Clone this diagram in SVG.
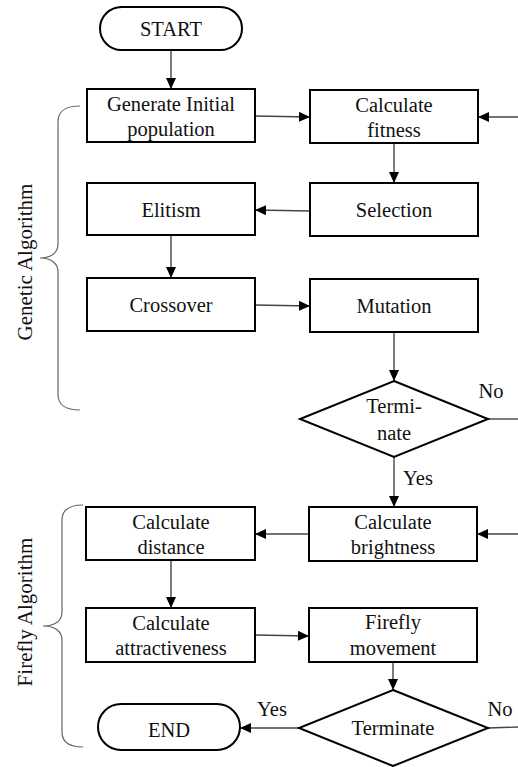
<svg xmlns="http://www.w3.org/2000/svg" width="518" height="767" viewBox="0 0 518 767">
  <style>
    .box { fill: #fff; stroke: #000; stroke-width: 2; }
    .lbl { font-size: 20.5px; fill: #111; text-anchor: middle; }
    .side { font-size: 21px; fill: #111; text-anchor: middle; }
    .edge { stroke: #444; stroke-width: 1.4; fill: none; }
    .brace { stroke: #666; stroke-width: 1.2; fill: none; }
  </style>
  <defs>
    <marker id="arrow" markerUnits="userSpaceOnUse" markerWidth="12" markerHeight="10" refX="11" refY="5" orient="auto">
      <path d="M0,0 L11,5 L0,10 Z" fill="#000"/>
    </marker>
  </defs>

  <rect width="518" height="767" fill="#fff"/>

  <g font-family="Liberation Serif, DejaVu Serif, serif">
  <!-- group braces and their titles -->
  <g id="genetic-brace">
    <path class="brace" d="M80,106 C66,106 58,110 58,122 L58,244 C58,252 52,258 40,258 C52,258 58,264 58,272 L58,394 C58,406 66,410 80,410"/>
    <text class="side" transform="translate(32,262) rotate(-90)">Genetic Algorithm</text>
  </g>
  <g id="firefly-brace">
    <path class="brace" d="M83,505 C70,505 62,509 62,520 L62,612 C62,620 56,626 43,626 C56,626 62,632 62,640 L62,732 C62,743 70,747 83,747"/>
    <text class="side" transform="translate(32,612) rotate(-90)">Firefly Algorithm</text>
  </g>

  <!-- connectors -->
  <g id="connectors">
    <path class="edge" d="M171,50 L171,89" marker-end="url(#arrow)"/>
    <path class="edge" d="M255,116 L310,117" marker-end="url(#arrow)"/>
    <path class="edge" d="M518,117 L478,117" marker-end="url(#arrow)"/>
    <path class="edge" d="M394,143 L394,183" marker-end="url(#arrow)"/>
    <path class="edge" d="M310,211 L255,210" marker-end="url(#arrow)"/>
    <path class="edge" d="M171,235 L171,278" marker-end="url(#arrow)"/>
    <path class="edge" d="M255,305 L310,306" marker-end="url(#arrow)"/>
    <path class="edge" d="M394,332 L394,381" marker-end="url(#arrow)"/>
    <path class="edge" d="M488,419 L518,419"/>
    <path class="edge" d="M394,457 L394,507" marker-end="url(#arrow)"/>
    <path class="edge" d="M518,534 L477,534" marker-end="url(#arrow)"/>
    <path class="edge" d="M309,534 L255,534" marker-end="url(#arrow)"/>
    <path class="edge" d="M171,560 L171,608" marker-end="url(#arrow)"/>
    <path class="edge" d="M255,635 L309,636" marker-end="url(#arrow)"/>
    <path class="edge" d="M393,662 L393,690" marker-end="url(#arrow)"/>
    <path class="edge" d="M299,728 L240,728" marker-end="url(#arrow)"/>
    <path class="edge" d="M488,728 L518,727"/>
    <text class="lbl" x="491" y="398">No</text>
    <text class="lbl" x="418" y="485">Yes</text>
    <text class="lbl" x="272" y="716">Yes</text>
    <text class="lbl" x="500" y="716">No</text>
  </g>

  <!-- nodes -->
  <g id="start">
    <rect class="box" x="100" y="7" width="142" height="43" rx="21.5"/>
    <text class="lbl" x="171" y="36">START</text>
  </g>
  <g id="generate">
    <rect class="box" x="87" y="89" width="168" height="53"/>
    <text class="lbl" x="171" y="111">Generate Initial</text>
    <text class="lbl" x="171" y="136">population</text>
  </g>
  <g id="fitness">
    <rect class="box" x="310" y="90" width="168" height="53"/>
    <text class="lbl" x="394" y="112">Calculate</text>
    <text class="lbl" x="394" y="137">fitness</text>
  </g>
  <g id="selection">
    <rect class="box" x="310" y="183" width="168" height="53"/>
    <text class="lbl" x="394" y="217">Selection</text>
  </g>
  <g id="elitism">
    <rect class="box" x="87" y="183" width="168" height="52"/>
    <text class="lbl" x="171" y="217">Elitism</text>
  </g>
  <g id="crossover">
    <rect class="box" x="87" y="278" width="168" height="53"/>
    <text class="lbl" x="171" y="312">Crossover</text>
  </g>
  <g id="mutation">
    <rect class="box" x="310" y="279" width="168" height="53"/>
    <text class="lbl" x="394" y="313">Mutation</text>
  </g>
  <g id="terminate-ga">
    <path class="box" d="M394,381 L488,419 L394,457 L300,419 Z"/>
    <text class="lbl" x="394" y="413">Termi-</text>
    <text class="lbl" x="394" y="440">nate</text>
  </g>
  <g id="brightness">
    <rect class="box" x="309" y="507" width="168" height="54"/>
    <text class="lbl" x="393" y="529">Calculate</text>
    <text class="lbl" x="393" y="554">brightness</text>
  </g>
  <g id="distance">
    <rect class="box" x="86" y="507" width="169" height="53"/>
    <text class="lbl" x="171" y="529">Calculate</text>
    <text class="lbl" x="171" y="554">distance</text>
  </g>
  <g id="attractiveness">
    <rect class="box" x="86" y="608" width="169" height="54"/>
    <text class="lbl" x="171" y="630">Calculate</text>
    <text class="lbl" x="171" y="655">attractiveness</text>
  </g>
  <g id="movement">
    <rect class="box" x="309" y="608" width="168" height="54"/>
    <text class="lbl" x="393" y="629">Firefly</text>
    <text class="lbl" x="393" y="655">movement</text>
  </g>
  <g id="terminate-fa">
    <path class="box" d="M393,690 L488,728 L393,766 L299,728 Z"/>
    <text class="lbl" x="393" y="735">Terminate</text>
  </g>
  <g id="end">
    <rect class="box" x="98" y="704" width="142" height="46" rx="23"/>
    <text class="lbl" x="169" y="737">END</text>
  </g>
  </g>
</svg>
